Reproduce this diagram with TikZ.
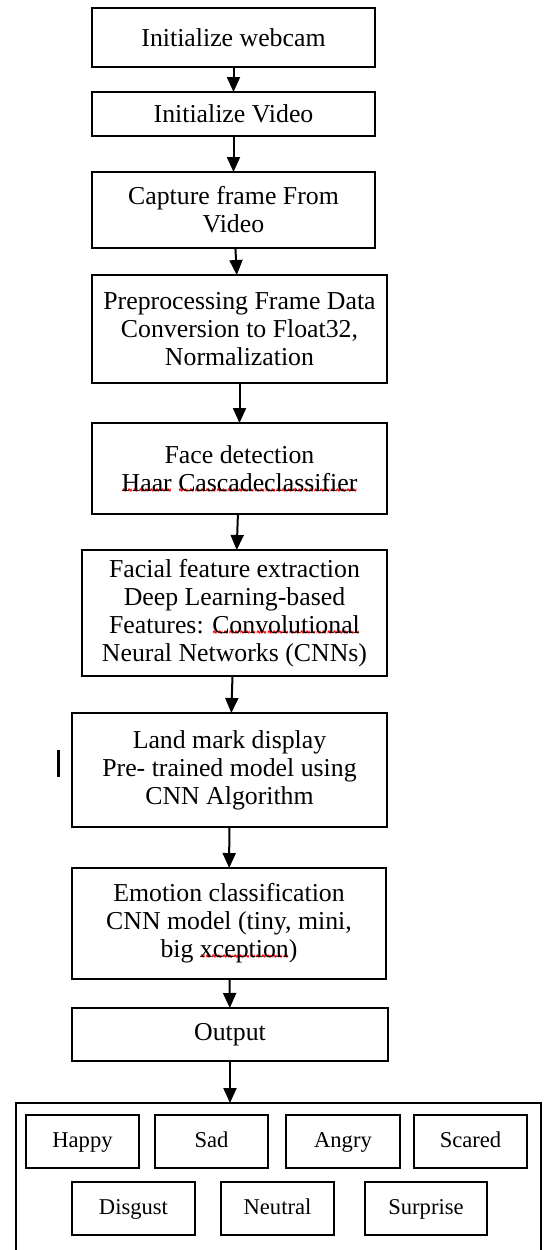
\documentclass[tikz,border=0pt]{standalone}
\usepackage{fontspec}
\setmainfont{Liberation Serif}
\newfontfamily\wavefont{DejaVu Sans Bold}
\usepackage{tikz}
\usetikzlibrary{arrows.meta}
\usetikzlibrary{positioning}
\newcommand{\spellerr}[1]{\setbox0\hbox{#1}\rlap{\raisebox{-2.4pt}[0pt][0pt]{\textcolor{red}{\hbox to \wd0{\xleaders\hbox{\scalebox{1}[3]{\wavefont\fontsize{3.2}{3.5}\selectfont\char"007E}}\hfill}}}}\box0\relax}
\tikzset{
    stage/.style={
      rectangle,
           draw=black, line width=0.7pt,
           inner sep=2pt, outer sep=0pt,
           align=center,
           font=\fontsize{12.9}{14}\selectfont,
           },
}
\tikzset{
    emotion/.style={
      rectangle,
           draw=black, line width=0.7pt,
           inner sep=2pt, outer sep=0pt,
           minimum width=56.5pt, minimum height=26.5pt,
           text height=8pt, text depth=2.5pt,
           font=\fontsize{11.3}{13}\selectfont,
           },
}
\tikzset{
    flow/.style={-{Triangle[length=7.5pt,width=6.5pt]}, line width=1pt},
}
\begin{document}
\begin{tikzpicture}
\useasboundingbox (0,0) rectangle (271.5pt,-625pt);
\clip (0,0) rectangle (271.5pt,-625pt);

\node[stage,minimum width=141.5pt,minimum height=29.5pt](wc) at (116.75pt,-18.75pt){Initialize webcam};
\node[stage,minimum width=141.5pt,minimum height=22pt,below = 12.5pt of wc](iv){Initialize Video};
\node[stage,minimum width=141.5pt,minimum height=38pt,below = 18pt of iv](cf){Capture frame From\\Video};

\path (wc) edge[flow](iv);
\path (iv) edge[flow](cf);

\node[stage,minimum width=147.5pt,minimum height=54pt,below = 13.5pt of cf,xshift=3pt](pp){Preprocessing Frame Data\\Conversion to Float32,\\Normalization};
\node[stage,minimum width=147.5pt,minimum height=45.5pt,below = 20pt of pp](fd){Face detection\\\spellerr{Haar} \spellerr{Cascadeclassifier}};

\path (cf) edge[flow](pp);
\path (pp) edge[flow](fd);

\node[stage,minimum width=152.5pt,minimum height=63pt,below = 18pt of fd,xshift=-2.5pt](fe){Facial feature extraction\\Deep Learning-based\\Features: \spellerr{Convolutional}\\Neural Networks (CNNs)};
\node[stage,minimum width=157.5pt,minimum height=57pt,below = 18.5pt of fe,xshift=-2.5pt](lm){Land mark display\\Pre- trained model using\\CNN Algorithm};

\path (fd) edge[flow](fe);
\path (fe) edge[flow](lm);

\draw[line width=1.5pt] ([xshift=-7pt,yshift=10pt]lm.west) -- ([xshift=-7pt,yshift=-3.5pt]lm.west);

\node[stage,minimum width=157pt,minimum height=55.5pt,below = 20.5pt of lm,xshift=-0.25pt](ec){Emotion classification\\CNN model (tiny, mini,\\big \spellerr{xception})};
\node[stage,minimum width=158pt,minimum height=26.5pt,below = 14.5pt of ec,xshift=0.5pt](op){Output};

\path (lm) edge[flow](ec);
\path (ec) edge[flow](op);

% result frame with the emotions
\node[draw=black,line width=0.7pt,outer sep=0pt,minimum width=262.5pt,minimum height=80pt,below = 21pt of op,xshift=24.25pt](res){};

\path (op) edge[flow](op |- res.north);

\node[emotion,below right = 6pt and 5pt of res.north west](hap){Happy};
\node[emotion,right = 8pt of hap](sad){Sad};
\node[emotion,minimum width=57pt,right = 9pt of sad](ang){Angry};
\node[emotion,right = 7pt of ang](sca){Scared};

\node[emotion,minimum width=61.5pt,below right = 7pt and 23pt of hap.south west](dis){Disgust};
\node[emotion,right = 13pt of dis](neu){Neutral};
\node[emotion,minimum width=61pt,right = 15.5pt of neu](sur){Surprise};

\end{tikzpicture}
\end{document}
